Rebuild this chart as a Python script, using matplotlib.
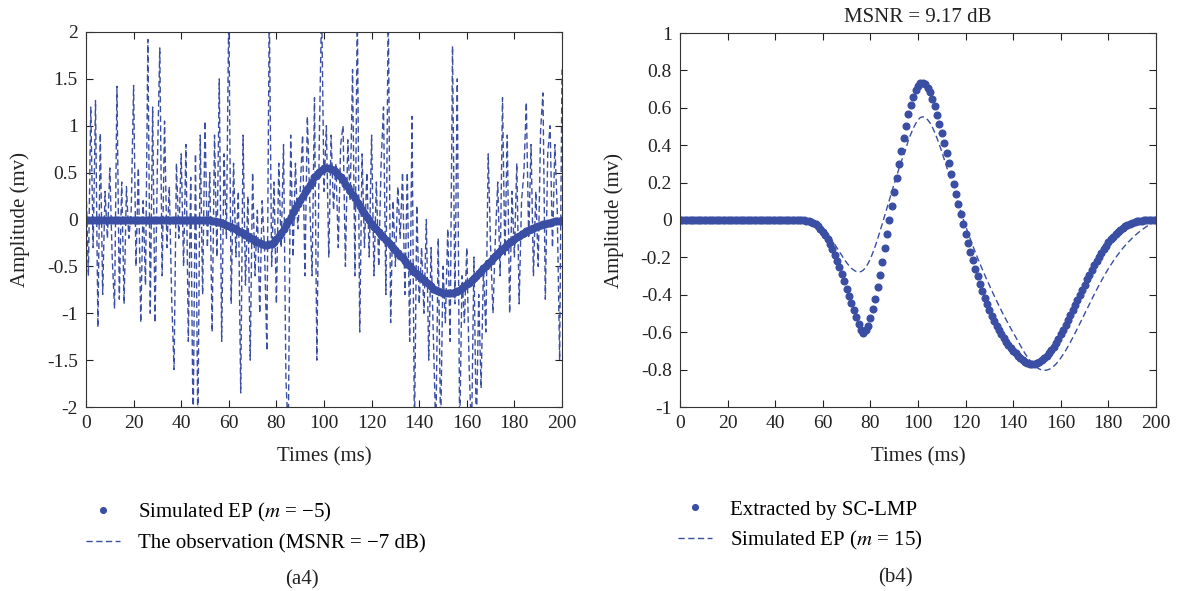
import numpy as np
import matplotlib
matplotlib.use("Agg")
import matplotlib.pyplot as plt

plt.rcParams['font.family'] = ['Liberation Serif', 'DejaVu Serif']
plt.rcParams['mathtext.fontset'] = 'stix'
plt.rcParams['axes.unicode_minus'] = False

BLUE = '#3a4ea3'

# time axis (ms), one sample per ms
times = list(range(201))

# (a4) simulated EP, m = -5
ep_left = [0.0] * 51 + [
    -0.005, -0.01, -0.012, -0.018, -0.024, -0.03, -0.038, -0.046, -0.055, -0.065,
    -0.077, -0.09, -0.104, -0.118, -0.133, -0.149, -0.165, -0.181, -0.197, -0.212,
    -0.227, -0.24, -0.252, -0.262, -0.268, -0.27, -0.266, -0.256, -0.238, -0.212,
    -0.18, -0.143, -0.103, -0.06, -0.016, 0.03, 0.075, 0.12, 0.165, 0.208,
    0.25, 0.29, 0.33, 0.366, 0.4, 0.45, 0.48, 0.51, 0.53, 0.545,
    0.55, 0.548, 0.54, 0.525, 0.505, 0.48, 0.45, 0.418, 0.383, 0.345,
    0.305, 0.265, 0.225, 0.185, 0.145, 0.105, 0.065, 0.028, -0.008, -0.043,
    -0.075, -0.105, -0.135, -0.163, -0.19, -0.218, -0.245, -0.272, -0.3, -0.328,
    -0.356, -0.385, -0.414, -0.443, -0.472, -0.5, -0.528, -0.555, -0.58, -0.605,
    -0.628, -0.65, -0.67, -0.689, -0.706, -0.74, -0.755, -0.767, -0.776, -0.782,
    -0.786, -0.787, -0.785, -0.78, -0.772, -0.761, -0.747, -0.731, -0.713, -0.693,
    -0.672, -0.649, -0.625, -0.6, -0.574, -0.547, -0.52, -0.493, -0.466, -0.439,
    -0.412, -0.386, -0.36, -0.335, -0.311, -0.288, -0.266, -0.245, -0.225, -0.206,
    -0.188, -0.171, -0.155, -0.14, -0.126, -0.113, -0.101, -0.09, -0.08, -0.07,
    -0.061, -0.053, -0.045, -0.038, -0.032, -0.026, -0.021, -0.016, -0.012, -0.008,
]

# (a4) noisy observation, MSNR = -7 dB
observation = [
    0.4, -0.6, 1.2, -0.3, 1.27, -1.15, 0.92, -0.8, 0.3, -0.2,
    0.55, -0.4, -0.95, 1.42, -0.85, 0.4, -0.9, 0.35, -0.2, 0.1,
    1.43, -0.5, 0.55, -1.1, 0.2, -0.7, 1.92, -1.0, 1.2, -1.1,
    0.6, 1.83, -0.6, 1.05, -0.3, 0.35, -0.85, -1.6, 0.6, -0.2,
    0.7, -0.5, 0.8, -1.3, 0.45, -2.3, 0.7, -2.3, 0.9, -0.8,
    1.05, -0.3, 0.5, -1.2, 0.9, -0.4, 1.5, -1.3, 0.7, -0.2,
    2.3, -0.9, 0.6, -0.4, 0.3, -1.85, 0.9, -0.7, 0.25, -1.5,
    0.5, -0.6, 0.1, -1.0, 0.2, -0.3, -1.4, 2.3, -0.5, 0.4,
    -0.9, 0.6, -0.3, 0.8, -1.7, -2.3, 0.9, -0.4, 0.6, -0.1,
    0.3, 0.9, -0.6, 1.1, 0.2, -0.6, 1.3, -1.5, 0.8, 2.3,
    0.3, 1.0, -0.4, 0.9, 0.1, 0.6, -0.3, 0.8, 1.0, -0.5,
    0.85, 0.2, 1.6, -0.6, 2.3, -1.2, 0.7, -0.3, 0.5, -0.4,
    0.9, -0.6, 0.4, -0.5, 0.6, 1.2, -0.8, 2.3, -1.1, 0.2,
    -0.5, 0.35, -0.2, 0.5, -0.8, 0.5, -1.3, 1.1, -2.3, 0.15,
    -0.9, -0.3, -1.0, 0.0, -1.5, -0.3, -1.3, -2.3, -0.2, -2.3,
    -0.5, -1.1, -0.1, -1.3, 1.85, -0.9, 1.5, -2.3, -0.6, -1.1,
    -0.3, -1.6, -2.3, -0.4, -2.3, -0.8, -1.8, -0.5, -1.2, 0.7,
    -0.3, -1.0, -0.2, 0.4, -0.6, 1.3, -0.4, 0.9, -1.0, 0.3,
    -0.4, 0.6, -0.9, 0.2, 0.5, 1.25, -0.2, 0.8, -0.6, 0.3,
    -0.5, 0.95, 1.35, -0.85, 0.7, 1.0, -0.3, 0.8, 0.1, -1.5,
    1.6,
]

# (b4) EP extracted by SC-LMP
extracted = [0.0] * 53 + [
    -0.003, -0.006, -0.01, -0.016, -0.024, -0.034, -0.047,
    -0.063, -0.082, -0.104, -0.128, -0.155, -0.185, -0.218, -0.253, -0.29, -0.328,
    -0.367, -0.405, -0.443, -0.48, -0.52, -0.558, -0.59, -0.602, -0.59, -0.565,
    -0.525, -0.475, -0.42, -0.36, -0.295, -0.225, -0.15, -0.075, 0.0, 0.075,
    0.15, 0.225, 0.3, 0.37, 0.44, 0.505, 0.565, 0.615, 0.66, 0.695,
    0.718, 0.73, 0.732, 0.725, 0.708, 0.682, 0.648, 0.608, 0.563, 0.515,
    0.465, 0.412, 0.358, 0.303, 0.248, 0.193, 0.138, 0.084, 0.03, -0.022,
    -0.073, -0.122, -0.17, -0.216, -0.26, -0.302, -0.342, -0.38, -0.416, -0.45,
    -0.482, -0.512, -0.54, -0.566, -0.59, -0.612, -0.633, -0.652, -0.67, -0.686,
    -0.7, -0.713, -0.725, -0.737, -0.748, -0.758, -0.765, -0.77, -0.772, -0.77,
    -0.765, -0.757, -0.747, -0.737, -0.725, -0.711, -0.695, -0.677, -0.657, -0.635,
    -0.612, -0.588, -0.563, -0.537, -0.51, -0.483, -0.455, -0.427, -0.4, -0.372,
    -0.345, -0.318, -0.292, -0.267, -0.243, -0.22, -0.198, -0.177, -0.157, -0.138,
    -0.12, -0.104, -0.089, -0.075, -0.062, -0.051, -0.041, -0.032, -0.025, -0.019,
    -0.014, -0.01, -0.007, -0.005, -0.003, -0.002, -0.001, 0.0, 0.0, 0.0,
    0.0,
]

# (b4) simulated EP, m = 15
ep_right = [0.0] * 55 + [
    -0.003, -0.007, -0.012, -0.02, -0.03,
    -0.042, -0.056, -0.072, -0.09, -0.11, -0.13, -0.15, -0.17, -0.19, -0.21,
    -0.228, -0.244, -0.258, -0.268, -0.275, -0.278, -0.276, -0.268, -0.254, -0.233,
    -0.207, -0.176, -0.141, -0.103, -0.062, -0.02, 0.023, 0.066, 0.109, 0.152,
    0.194, 0.235, 0.275, 0.313, 0.349, 0.383, 0.43, 0.46, 0.49, 0.515,
    0.535, 0.548, 0.552, 0.548, 0.537, 0.52, 0.497, 0.469, 0.437, 0.402,
    0.365, 0.326, 0.286, 0.245, 0.204, 0.163, 0.122, 0.082, 0.043, 0.005,
    -0.032, -0.068, -0.103, -0.137, -0.17, -0.202, -0.233, -0.263, -0.293, -0.322,
    -0.35, -0.378, -0.405, -0.432, -0.458, -0.484, -0.509, -0.533, -0.557, -0.58,
    -0.602, -0.625, -0.648, -0.67, -0.693, -0.715, -0.733, -0.75, -0.765, -0.778,
    -0.789, -0.797, -0.802, -0.804, -0.803, -0.799, -0.792, -0.782, -0.77, -0.755,
    -0.738, -0.719, -0.699, -0.677, -0.654, -0.63, -0.605, -0.58, -0.554, -0.528,
    -0.502, -0.476, -0.45, -0.424, -0.399, -0.374, -0.35, -0.326, -0.303, -0.281,
    -0.26, -0.24, -0.221, -0.202, -0.185, -0.168, -0.152, -0.137, -0.123, -0.11,
    -0.097, -0.085, -0.074, -0.063, -0.053, -0.044, -0.035, -0.027, -0.019, -0.012,
    -0.005,
]

x_ticks = [0, 20, 40, 60, 80, 100, 120, 140, 160, 180, 200]
left_yticks = [-2, -1.5, -1, -0.5, 0, 0.5, 1, 1.5, 2]
left_yticklabels = ['-2', '-1.5', '-1', '-0.5', '0', '0.5', '1', '1.5', '2']
right_yticks = [-1, -0.8, -0.6, -0.4, -0.2, 0, 0.2, 0.4, 0.6, 0.8, 1]
right_yticklabels = ['-1', '-0.8', '-0.6', '-0.4', '-0.2', '0', '0.2', '0.4', '0.6', '0.8', '1']

W, H = 1178, 591
TXT = '#222222'
FS = 15
fig = plt.figure(figsize=(W / 100, H / 100), dpi=100)


def frac(x0, y0, x1, y1):
    # pixel box -> figure fraction rect
    return [x0 / W, 1 - y1 / H, (x1 - x0) / W, (y1 - y0) / H]


def style_axes(ax):
    ax.set_xlim(0, 200)
    ax.set_xticks(x_ticks)
    ax.tick_params(direction='in', top=True, right=True, length=5, width=0.8,
                   labelsize=14, colors=TXT, pad=6)
    for s in ax.spines.values():
        s.set_linewidth(0.8)
        s.set_color('#333333')
    ax.set_xlabel('Times (ms)', fontsize=FS, color=TXT, labelpad=11)
    ax.set_ylabel('Amplitude (mv)', fontsize=FS, color=TXT, labelpad=12)


leg_kw = dict(loc='upper left', bbox_transform=fig.transFigure, frameon=False,
              fontsize=FS, handlelength=1.65, handletextpad=0.85,
              labelspacing=0.45, borderpad=0, borderaxespad=0, markerscale=0.85)

# ---- (a4) ----
ax1 = fig.add_axes(frac(86, 32, 562, 407))
ax1.plot(times, observation, ls=(0, (4.5, 2.5)), lw=1.0, color=BLUE,
         label='The observation (MSNR = \u22127 dB)')
ax1.plot(times, ep_left, ls='none', marker='o', ms=4.8, mec=BLUE, mfc=BLUE,
         label='Simulated EP ($m$ = \u22125)')
ax1.set_ylim(-2, 2)
ax1.set_yticks(left_yticks)
ax1.set_yticklabels(left_yticklabels)
style_axes(ax1)
h, l = ax1.get_legend_handles_labels()
ax1.legend(h[::-1], l[::-1], bbox_to_anchor=(86 / W, 1 - 501 / H), **leg_kw)
fig.text(302 / W, 1 - 580 / H, '(a4)', ha='center', va='center', fontsize=FS, color=TXT)

# ---- (b4) ----
ax2 = fig.add_axes(frac(680, 33, 1156, 407))
ax2.plot(times, extracted, ls='none', marker='o', ms=4.8, mec=BLUE, mfc=BLUE,
         label='Extracted by SC-LMP')
ax2.plot(times, ep_right, ls=(0, (4.5, 2.5)), lw=1.0, color=BLUE,
         label='Simulated EP ($m$ = 15)')
ax2.set_ylim(-1, 1)
ax2.set_yticks(right_yticks)
ax2.set_yticklabels(right_yticklabels)
style_axes(ax2)
ax2.set_title('MSNR = 9.17 dB', fontsize=FS, color=TXT, pad=8)
ax2.legend(bbox_to_anchor=(678 / W, 1 - 500 / H), **leg_kw)
fig.text(895 / W, 1 - 578 / H, '(b4)', ha='center', va='center', fontsize=FS, color=TXT)

fig.savefig('out.png', dpi=100)
